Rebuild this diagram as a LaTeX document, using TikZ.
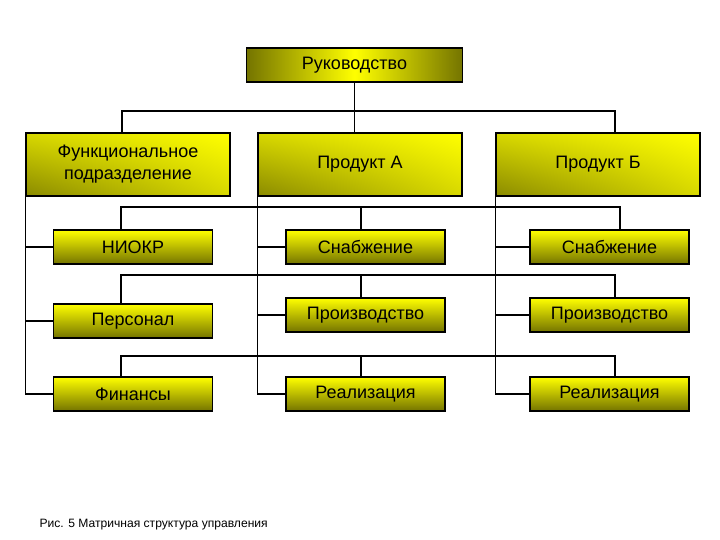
\documentclass[tikz,border=0pt]{standalone}
\usepackage{fontspec}
\setmainfont{Liberation Sans}
\usepackage{tikz}
\usetikzlibrary{shadings}
\definecolor{boxyellow}{HTML}{FFFF00}
\definecolor{boxolive}{HTML}{747400}
\definecolor{boxmid}{HTML}{D8D800}
\definecolor{boxdark}{HTML}{8A8A00}

\begin{document}
\begin{tikzpicture}[x=1pt, y=-1pt,
  unit/.style={draw=black, line width=1.2pt, minimum width=159pt, minimum height=34pt, inner sep=0pt, align=center, font=\fontsize{18}{21}\selectfont, top color=boxyellow, bottom color=boxolive},
  head/.style={draw=black, line width=1.2pt, minimum width=204pt, minimum height=63pt, inner sep=0pt, align=center, font=\fontsize{18}{22}\selectfont, upper right=boxyellow, upper left=boxmid, lower left=boxdark, lower right=boxmid},
  chief/.style={draw=black, line width=1.2pt, minimum width=216pt, minimum height=34pt, inner sep=0pt, font=\fontsize{18}{21}\selectfont, left color=boxolive, right color=boxolive, middle color=boxyellow},
  link/.style={draw=black, line width=1.2pt},
]
  \useasboundingbox (0,0) rectangle (720,540);

  \node[chief] (ruk) at (354.5,65) {Руководство};

  \node[head] (func) at (128,164.5) {Функциональное\\подразделение};
  \node[head] (prodA) at (360,164.5) {Продукт А};
  \node[head] (prodB) at (598,164.5) {Продукт Б};

  \node[unit] (niokr) at (133,247) {НИОКР};
  \node[unit] (snabA) at (365.5,247) {Снабжение};
  \node[unit] (snabB) at (609.5,247) {Снабжение};

  \node[unit] (pers) at (133,321) {Персонал};
  \node[unit] (proizA) at (365.5,315) {Производство};
  \node[unit] (proizB) at (609.5,315) {Производство};

  \node[unit] (fin) at (133,394) {Финансы};
  \node[unit] (realA) at (365.5,394) {Реализация};
  \node[unit] (realB) at (609.5,394) {Реализация};

  \node[anchor=west, font=\fontsize{12.1}{14}\selectfont] (caption) at (36,525) {Рис. 5 Матричная структура управления};

  % top level
  \draw[link] (ruk.south) -- (ruk.south |- prodA.north);
  \coordinate (topL) at (122,111);
  \coordinate (topR) at (615,111);
  \draw[link] (topL |- func.north) -- (topL) -- (topR) -- (topR |- prodB.north);

  % columns
  \foreach \h/\a/\b/\c in {func/niokr/pers/fin, prodA/snabA/proizA/realA, prodB/snabB/proizB/realB} {
    \draw[link] (\h.south west) |- (\c.west);
    \draw[link] (\h.south west |- \a.west) -- (\a.west);
    \draw[link] (\h.south west |- \b.west) -- (\b.west);
  }

  % rows
  \foreach \a/\b/\c/\y/\r in {niokr/snabA/snabB/207/620, pers/proizA/proizB/275/615, fin/realA/realB/356/615} {
    \coordinate (rowL) at (121,\y);
    \coordinate (rowM) at (361,\y);
    \coordinate (rowR) at (\r,\y);
    \draw[link] (rowL |- \a.north) -- (rowL) -- (rowR) -- (rowR |- \c.north);
    \draw[link] (rowM) -- (rowM |- \b.north);
  }
\end{tikzpicture}
\end{document}
